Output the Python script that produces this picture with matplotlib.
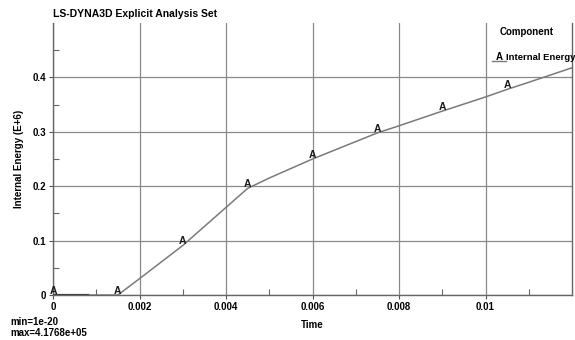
import matplotlib
matplotlib.use("Agg")
import matplotlib.pyplot as plt
from matplotlib.ticker import FixedLocator

# time history of internal energy (E+6)
time = [0.0, 0.0008, 0.0015, 0.002, 0.003, 0.0045, 0.005, 0.006, 0.007,
        0.0075, 0.008, 0.009, 0.010, 0.0105, 0.011, 0.012]
energy = [0.0, 0.0, 0.0, 0.030, 0.091, 0.196, 0.215, 0.250, 0.282,
          0.298, 0.311, 0.338, 0.364, 0.378, 0.391, 0.4177]
marker_idx = [0, 2, 4, 5, 7, 9, 11, 13]

x_ticks = [0, 0.002, 0.004, 0.006, 0.008, 0.01]
x_labels = ["0", "0.002", "0.004", "0.006", "0.008", "0.01"]
y_ticks = [0, 0.1, 0.2, 0.3, 0.4]
y_labels = ["0", "0.1", "0.2", "0.3", "0.4"]

plt.rcParams["font.family"] = ["Liberation Sans Narrow", "Liberation Sans", "DejaVu Sans"]
plt.rcParams["font.weight"] = "bold"

fig = plt.figure(figsize=(5.75, 3.4), dpi=100)
ax = fig.add_axes([53 / 575, 1 - 295 / 340, (572 - 53) / 575, (295 - 23) / 340])

ax.plot(time, energy, color="#7a7a7a", lw=1.1, zorder=3)
ax.plot(time[:2], energy[:2], color="#444444", lw=1.6, zorder=3)
# "A" labels sit on the curve
for i in marker_idx:
    ax.annotate("A", (time[i], energy[i]), xytext=(0, -0.5), textcoords="offset points",
                ha="center", va="bottom", fontsize=7.5, color="#1a1a1a", zorder=4)

ax.set_xlim(0, 0.012)
ax.set_ylim(0, 0.5)
ax.set_xticks(x_ticks)
ax.set_xticklabels(x_labels)
ax.set_yticks(y_ticks)
ax.set_yticklabels(y_labels)
ax.xaxis.set_minor_locator(FixedLocator([0.001, 0.003, 0.005, 0.007, 0.009, 0.011]))
ax.yaxis.set_minor_locator(FixedLocator([0.05, 0.15, 0.25, 0.35, 0.45]))
ax.tick_params(which="major", direction="out", length=3, width=0.8,
               labelsize=7, color="#555555", pad=2)
ax.tick_params(which="minor", direction="in", length=4, width=0.8, color="#666666")
ax.grid(True, which="major", color="#8a8a8a", lw=0.9)
for s in ax.spines.values():
    s.set_color("#666666")
    s.set_linewidth(1.0)
ax.spines["top"].set_visible(False)

ax.set_xlabel("Time", fontsize=7, fontweight="bold", labelpad=6)
ax.set_ylabel("Internal Energy (E+6)", fontsize=7, fontweight="bold", labelpad=6)

fig.text(53 / 575, 1 - 14 / 340, "LS-DYNA3D Explicit Analysis Set",
         fontsize=7.5, va="center", ha="left")
fig.text(500 / 575, 1 - 32 / 340, "Component", fontsize=7, va="center")
fig.lines.append(plt.Line2D([492 / 575, 506 / 575], [1 - 61 / 340] * 2,
                            color="#7a7a7a", lw=1.0, transform=fig.transFigure))
fig.text(499 / 575, 1 - 57 / 340, "A", fontsize=7, va="center", ha="center")
fig.text(506 / 575, 1 - 57 / 340, "Internal Energy", fontsize=6.8, va="center")
fig.text(10 / 575, 1 - 322 / 340, "min=1e-20", fontsize=7, va="center")
fig.text(10 / 575, 1 - 333 / 340, "max=4.1768e+05", fontsize=7, va="center")

fig.savefig("out.png", dpi=100)
